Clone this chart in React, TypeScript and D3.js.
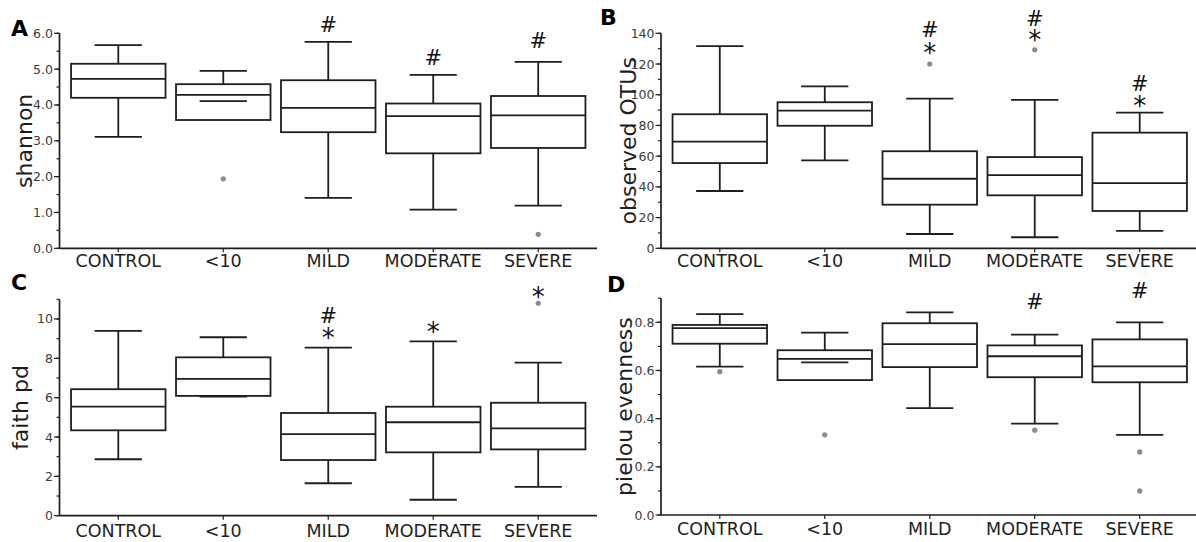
import React, { useEffect, useRef } from 'react';
import * as d3 from 'd3';

const categories = ['CONTROL', '<10', 'MILD', 'MODERATE', 'SEVERE'];

// each box: [lower whisker, Q1, median, Q3, upper whisker]
const shannonBoxes = [
  [3.11, 4.2, 4.73, 5.15, 5.67],
  [4.11, 3.58, 4.28, 4.58, 4.95],
  [1.41, 3.24, 3.92, 4.69, 5.76],
  [1.08, 2.65, 3.69, 4.04, 4.84],
  [1.19, 2.8, 3.71, 4.25, 5.2],
];
const shannonOutliers = [[], [1.94], [], [], [0.39]];
const shannonMarks = [
  { cat: 'MILD', text: '#', y: 6.05 },
  { cat: 'MODERATE', text: '#', y: 5.12 },
  { cat: 'SEVERE', text: '#', y: 5.58 },
];
const shannonTicks = [0, 1, 2, 3, 4, 5, 6];

const otuBoxes = [
  [37.3, 55.5, 69.4, 87.3, 131.7],
  [57.3, 79.8, 89.6, 95.1, 105.5],
  [9.3, 28.4, 45.3, 63.2, 97.4],
  [7.2, 34.5, 47.7, 59.4, 96.6],
  [11.3, 24.3, 42.5, 75.3, 88.3],
];
const otuOutliers = [[], [], [120], [129.3], []];
const otuMarks = [
  { cat: 'MILD', text: '#', y: 137.8 },
  { cat: 'MILD', text: '*', y: 129.3 },
  { cat: 'MODERATE', text: '#', y: 144.8 },
  { cat: 'MODERATE', text: '*', y: 137.6 },
  { cat: 'SEVERE', text: '#', y: 102.6 },
  { cat: 'SEVERE', text: '*', y: 94.9 },
];
const otuTicks = [0, 20, 40, 60, 80, 100, 120, 140];

const faithBoxes = [
  [2.87, 4.34, 5.54, 6.43, 9.39],
  [6.05, 6.09, 6.95, 8.05, 9.07],
  [1.65, 2.83, 4.15, 5.22, 8.54],
  [0.81, 3.22, 4.75, 5.54, 8.86],
  [1.47, 3.37, 4.44, 5.74, 7.78],
];
const faithOutliers = [[], [], [], [], [10.8]];
const faithMarks = [
  { cat: 'MILD', text: '#', y: 9.78 },
  { cat: 'MILD', text: '*', y: 9.19 },
  { cat: 'MODERATE', text: '*', y: 9.48 },
  { cat: 'SEVERE', text: '*', y: 11.26 },
];
const faithTicks = [0, 2, 4, 6, 8, 10];

const pielouBoxes = [
  [0.616, 0.711, 0.776, 0.789, 0.834],
  [0.634, 0.56, 0.648, 0.684, 0.757],
  [0.444, 0.614, 0.709, 0.796, 0.841],
  [0.379, 0.572, 0.659, 0.704, 0.749],
  [0.333, 0.551, 0.617, 0.729, 0.8],
];
const pielouOutliers = [[0.595], [0.333], [], [0.352], [0.262, 0.1]];
const pielouMarks = [
  { cat: 'MODERATE', text: '#', y: 0.854 },
  { cat: 'SEVERE', text: '#', y: 0.9 },
];
const pielouTicks = [0, 0.2, 0.4, 0.6, 0.8];

const panels = [
  {
    letter: 'A', label: 'shannon', boxes: shannonBoxes, outliers: shannonOutliers, marks: shannonMarks,
    ticks: shannonTicks, minorStep: 0.5, domain: [0, 6], fmt: '.1f',
    x0: 59.5, x1: 597, top: 33.3, bottom: 248.3, letterX: 11, letterY: 36, labelOffset: 28, catOffset: 19,
  },
  {
    letter: 'B', label: 'observed OTUs', boxes: otuBoxes, outliers: otuOutliers, marks: otuMarks,
    ticks: otuTicks, minorStep: 10, domain: [0, 140], fmt: 'd',
    x0: 661, x1: 1198.5, top: 33.3, bottom: 248.3, letterX: 600, letterY: 25, labelOffset: 25, catOffset: 19,
  },
  {
    letter: 'C', label: 'faith pd', boxes: faithBoxes, outliers: faithOutliers, marks: faithMarks,
    ticks: faithTicks, minorStep: 1, domain: [0, 11], fmt: 'd',
    x0: 59.5, x1: 597, top: 299.3, bottom: 515.7, letterX: 11, letterY: 290, labelOffset: 32, catOffset: 21,
  },
  {
    letter: 'D', label: 'pielou evenness', boxes: pielouBoxes, outliers: pielouOutliers, marks: pielouMarks,
    ticks: pielouTicks, minorStep: 0.1, domain: [0, 0.9], fmt: '.1f',
    x0: 661, x1: 1198.5, top: 298.2, bottom: 515, letterX: 607, letterY: 292, labelOffset: 29, catOffset: 20,
  },
];

const FONT = '"DejaVu Sans", sans-serif';
const INK = '#1e1e1e';

const App = () => {
  const svgRef = useRef<SVGSVGElement>(null);

  useEffect(() => {
    const svg = d3.select(svgRef.current);
    svg.selectAll('*').remove();

    panels.forEach(p => {
      const g = svg.append('g');

      const x = d3.scaleBand()
        .domain(categories)
        .range([p.x0, p.x1])
        .paddingInner(0.1)
        .paddingOuter(0.11);
      const y = d3.scaleLinear().domain(p.domain).range([p.bottom, p.top]);
      const bw = x.bandwidth();
      const cx = (c: string) => (x(c) as number) + bw / 2;

      // axes lines
      g.append('line')
        .attr('x1', p.x0).attr('x2', p.x0).attr('y1', p.bottom).attr('y2', p.top)
        .attr('stroke', INK).attr('stroke-width', 1.7);
      g.append('line')
        .attr('x1', p.x0).attr('x2', p.x1).attr('y1', p.bottom).attr('y2', p.bottom)
        .attr('stroke', INK).attr('stroke-width', 1.7);

      // minor y ticks
      const minor = d3.range(p.domain[0], p.domain[1] + 1e-9, p.minorStep);
      g.selectAll('.minor').data(minor).enter().append('line')
        .attr('x1', p.x0 - 3).attr('x2', p.x0)
        .attr('y1', d => y(d)).attr('y2', d => y(d))
        .attr('stroke', INK).attr('stroke-width', 1.2);

      // major y ticks + labels
      const fmt = d3.format(p.fmt);
      g.selectAll('.major').data(p.ticks).enter().append('line')
        .attr('x1', p.x0 - 5.5).attr('x2', p.x0)
        .attr('y1', d => y(d)).attr('y2', d => y(d))
        .attr('stroke', INK).attr('stroke-width', 1.2);
      g.selectAll('.tlabel').data(p.ticks).enter().append('text')
        .attr('x', p.x0 - 6.5).attr('y', d => y(d))
        .attr('dy', '0.36em')
        .attr('text-anchor', 'end')
        .attr('font-family', FONT).attr('font-size', 12.5)
        .attr('fill', '#3a3a3a')
        .text(d => fmt(d));

      // x ticks + category labels
      g.selectAll('.xtick').data(categories).enter().append('line')
        .attr('x1', d => cx(d)).attr('x2', d => cx(d))
        .attr('y1', p.bottom).attr('y2', p.bottom + 4)
        .attr('stroke', INK).attr('stroke-width', 1.2);
      g.selectAll('.xlabel').data(categories).enter().append('text')
        .attr('x', d => cx(d)).attr('y', p.bottom + p.catOffset)
        .attr('text-anchor', 'middle')
        .attr('font-family', FONT).attr('font-size', 17.5)
        .attr('fill', INK)
        .text(d => d);

      // y axis title
      g.append('text')
        .attr('transform', `translate(${p.x0 - p.labelOffset},${(p.top + p.bottom) / 2}) rotate(-90)`)
        .attr('text-anchor', 'middle')
        .attr('font-family', FONT).attr('font-size', 22)
        .attr('fill', INK)
        .text(p.label);

      // panel letter
      g.append('text')
        .attr('x', p.letterX).attr('y', p.letterY)
        .attr('font-family', FONT).attr('font-size', 22).attr('font-weight', 'bold')
        .attr('fill', '#000')
        .text(p.letter);

      // boxes
      p.boxes.forEach((b, i) => {
        const c = categories[i];
        const left = x(c) as number;
        const mid = cx(c);
        const [lo, q1, med, q3, hi] = b;
        const bg = g.append('g').attr('stroke', INK).attr('stroke-width', 1.8).attr('fill', 'none');
        bg.append('rect')
          .attr('x', left).attr('y', y(q3))
          .attr('width', bw).attr('height', y(q1) - y(q3));
        bg.append('line')
          .attr('x1', left).attr('x2', left + bw).attr('y1', y(med)).attr('y2', y(med));
        bg.append('line')
          .attr('x1', mid).attr('x2', mid).attr('y1', y(q3)).attr('y2', y(hi));
        if (lo < q1) {
          bg.append('line')
            .attr('x1', mid).attr('x2', mid).attr('y1', y(q1)).attr('y2', y(lo));
        }
        [lo, hi].forEach(v => {
          bg.append('line')
            .attr('x1', mid - bw / 4).attr('x2', mid + bw / 4)
            .attr('y1', y(v)).attr('y2', y(v));
        });
        p.outliers[i].forEach(v => {
          g.append('circle')
            .attr('cx', mid).attr('cy', y(v)).attr('r', 2.6)
            .attr('fill', '#8a8a8a');
        });
      });

      // significance marks: one text per category, each symbol a tspan
      const byCat = d3.group(p.marks, m => m.cat);
      byCat.forEach((ms, cat) => {
        const t = g.append('text')
          .attr('text-anchor', 'middle')
          .attr('font-family', FONT)
          .attr('fill', '#111');
        ms.forEach(m => {
          const isStar = m.text === '*';
          const size = isStar ? 26 : 21;
          t.append('tspan')
            .attr('x', cx(cat))
            .attr('y', isStar ? y(m.y) + size * 0.46 : y(m.y))
            .attr('font-size', size)
            .text(m.text);
        });
      });
    });
  }, []);

  return (
    <svg
      ref={svgRef}
      width={1196}
      height={542}
      style={{ position: 'absolute', left: 0, top: 0, background: '#fff' }}
    />
  );
};

export default App;
